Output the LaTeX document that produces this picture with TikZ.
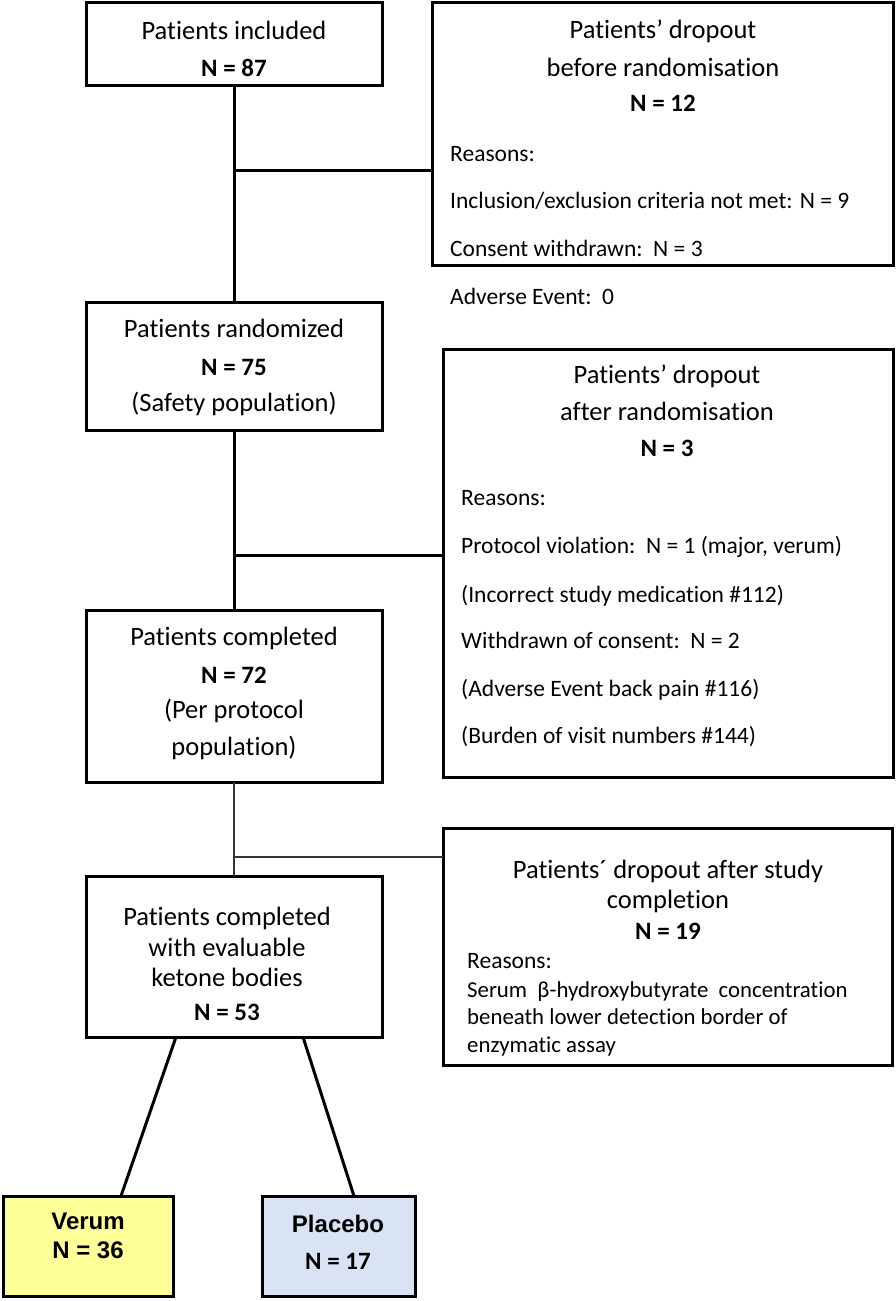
\documentclass[tikz,border=0pt]{standalone}
\usepackage{fontspec}
\setmainfont{Carlito}[Ligatures=NoCommon]
\newfontfamily\arialf{Liberation Sans}
\definecolor{verumfill}{HTML}{FFFF99}
\definecolor{placebofill}{HTML}{DAE3F3}
\definecolor{thinline}{HTML}{333333}
\begin{document}
\begin{tikzpicture}[x=1pt,y=-1pt,
  box/.style={draw=black, line width=3pt, rectangle, inner sep=0pt, outer sep=0pt, anchor=north west},
  txt/.style={inner sep=0pt, anchor=base, font=\fontsize{26.5}{30}\selectfont},
  ltxt/.style={inner sep=0pt, anchor=base west, font=\fontsize{23.5}{30}\selectfont},
  stxt/.style={inner sep=0pt, anchor=base west, font=\fontsize{22.8}{27}\selectfont},
  btxt/.style={inner sep=0pt, anchor=base, font=\fontsize{25}{30}\selectfont\bfseries},
  atxt/.style={inner sep=0pt, anchor=base, font=\fontsize{24}{30}\selectfont\arialf\bfseries},
  conn/.style={draw=black, line width=3pt},
  thin/.style={draw=thinline, line width=1.5pt}]
\useasboundingbox (0,0) rectangle (896,1301);

% boxes
\node[box, minimum width=296pt, minimum height=83pt] (b1) at (86,2) {};
\node[box, minimum width=461pt, minimum height=263pt] (b2) at (432,2) {};
\node[box, minimum width=296pt, minimum height=128pt] (b3) at (86,302) {};
\node[box, minimum width=450pt, minimum height=428pt] (b4) at (443,349) {};
\node[box, minimum width=296pt, minimum height=172pt] (b5) at (86,610) {};
\node[box, minimum width=449pt, minimum height=237pt] (b6) at (443,828) {};
\node[box, minimum width=296pt, minimum height=161pt] (b7) at (86,876) {};
\node[box, fill=verumfill, minimum width=170pt, minimum height=100pt] (verum) at (3,1196) {};
\node[box, fill=placebofill, minimum width=153pt, minimum height=100pt] (placebo) at (262,1196) {};

% texts box 1
\node[txt] (t1a) at (234,39) {Patients included};
\node[btxt] (t1b) at (234,76) {N = 87};
% box 2
\node[txt] (t2a) at (663,38) {Patients’ dropout};
\node[txt] (t2b) at (663,76) {before randomisation};
\node[btxt] (t2c) at (663,111) {N = 12};
\node[ltxt] (t2d) at (450,161) {Reasons:};
\node[ltxt] (t2e) at (450,208) {Inclusion/exclusion criteria not met: N = 9};
\node[ltxt] (t2f) at (450,256) {Consent withdrawn:\ \ N = 3};
\node[ltxt] (t2g) at (450,304) {Adverse Event:\ \ 0};
% box 3
\node[txt] (t3a) at (234,337) {Patients randomized};
\node[btxt] (t3b) at (234,375) {N = 75};
\node[txt] (t3c) at (234,411) {(Safety population)};
% box 4
\node[txt] (t4a) at (667,383) {Patients’ dropout};
\node[txt] (t4b) at (667,420) {after randomisation};
\node[btxt] (t4c) at (667,456) {N = 3};
\node[ltxt] (t4d) at (461,505) {Reasons:};
\node[ltxt] (t4e) at (461,553) {Protocol\ violation:\ \ N = 1 (major, verum)};
\node[ltxt] (t4f) at (461,602) {(Incorrect study medication \#112)};
\node[ltxt] (t4g) at (461,648) {Withdrawn\ of consent:\ \ N = 2};
\node[ltxt] (t4h) at (461,696) {(Adverse Event back pain \#116)};
\node[ltxt] (t4i) at (461,743) {(Burden of visit numbers \#144)};
% box 5
\node[txt] (t5a) at (234,645) {Patients completed};
\node[btxt] (t5b) at (234,683) {N = 72};
\node[txt] (t5c) at (234,718) {(Per protocol};
\node[txt] (t5d) at (234,755) {population)};
% box 6
\node[txt] (t6a) at (668,878) {Patients´ dropout after study};
\node[txt] (t6b) at (668,908) {completion};
\node[btxt] (t6c) at (668,939) {N = 19};
\node[stxt, font=\fontsize{23.5}{30}\selectfont] (t6d) at (467,968) {Reasons:};
\node[stxt] (t6e) at (467,997) {Serum\ \ β-hydroxybutyrate\ \ concentration};
\node[stxt] (t6f) at (467,1024) {beneath\ lower\ detection\ border\ of};
\node[stxt] (t6g) at (467,1052) {enzymatic assay};
% box 7
\node[txt] (t7a) at (227,925) {Patients completed};
\node[txt] (t7b) at (227,956) {with evaluable};
\node[txt] (t7c) at (227,986) {ketone bodies};
\node[btxt] (t7d) at (227,1020) {N = 53};
% verum / placebo
\node[atxt] (tva) at (88,1229) {Verum};
\node[atxt] (tvb) at (88,1258) {N = 36};
\node[atxt] (tpa) at (338,1232) {Placebo};
\node[btxt] (tpb) at (338,1269) {N = 17};

% connectors
\coordinate (j1) at (234,170);
\coordinate (j2) at (234,555);
\coordinate (j3) at (234,857);
\draw[conn] (b1.south) -- (b3.north);
\draw[conn] (j1) -- (b2.west |- j1);
\draw[conn] (b3.south) -- (b5.north);
\draw[conn] (j2) -- (b4.west |- j2);
\draw[thin] (b5.south) -- (b7.north);
\draw[thin] (j3) -- (b6.west |- j3);
\draw[conn] ([xshift=-58pt]b7.south) -- ([xshift=33pt]verum.north);
\draw[conn] ([xshift=69pt]b7.south) -- ([xshift=15.5pt]placebo.north);
\end{tikzpicture}
\end{document}
